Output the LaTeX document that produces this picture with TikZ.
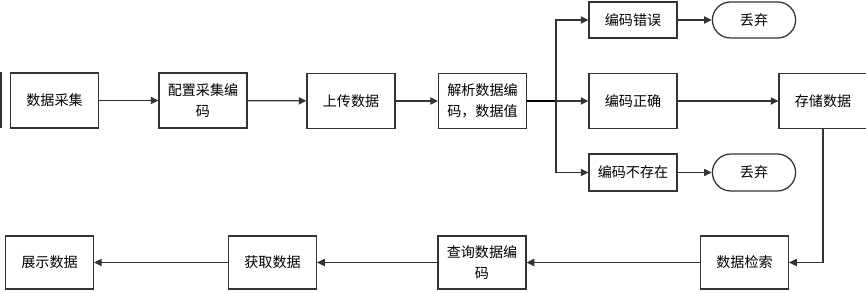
\documentclass[tikz,border=0pt]{standalone}
\usepackage{fontspec}
\setmainfont{Noto Sans CJK SC}
\usetikzlibrary{arrows.meta,shapes.misc}

\begin{document}
\begin{tikzpicture}[x=0.025cm, y=-0.025cm,
    box/.style={draw=black!80, line width=0.9pt, fill=white, minimum width=2.2cm, minimum height=1.375cm, align=center, inner sep=1pt, font=\fontsize{10}{15}\selectfont},
    endbox/.style={box, rounded rectangle, minimum width=2.15cm, minimum height=0.9cm},
    flow/.style={draw=black!80, line width=0.9pt, -{Triangle[length=1.9mm, width=1.8mm]}}]
    \useasboundingbox (0,0) rectangle (866,293);
    % upper row
    \node[box] (prev) at (-43,100) {};
    \node[box] (cj) at (54.5,100.5) {数据采集};
    \node[box] (pz) at (203,100.5) {配置采集编\\码};
    \node[box] (sc) at (351,101) {上传数据};
    \node[box] (jx) at (482.5,101) {解析数据编\\码，数据值};
    % branches
    \coordinate (br) at (556,101);
    \node[box, minimum height=0.9cm] (cw) at (633,20) {编码错误};
    \node[endbox] (qi1) at (754,20) {丢弃};
    \node[box] (zq) at (633,101) {编码正确};
    \node[box, minimum height=0.925cm] (bc) at (633,172.5) {编码不存在};
    \node[endbox, minimum height=0.925cm] (qi2) at (754,172.5) {丢弃};
    \node[box] (cc) at (823,101) {存储数据};
    % lower row
    \node[box, minimum height=1.325cm] (js) at (744.5,262.5) {数据检索};
    \node[box, minimum height=1.325cm] (cx) at (482,262.5) {查询数据编\\码};
    \node[box, minimum height=1.325cm] (hq) at (272.5,262.5) {获取数据};
    \node[box, minimum height=1.325cm] (zs) at (49.5,262.5) {展示数据};
    % connectors
    \draw[flow] (cj) -- (pz);
    \draw[flow] (pz) -- (sc);
    \draw[flow] (sc) -- (jx);
    \draw[draw=black, line width=1.6pt] (jx) -- (br);
    \draw[flow] (br) |- (cw);
    \draw[flow] (br) -- (zq);
    \draw[flow] (br) |- (bc);
    \draw[flow] (cw) -- (qi1);
    \draw[flow] (bc) -- (qi2);
    \draw[flow] (zq) -- (cc);
    \draw[flow] (cc.south) |- (js.east);
    \draw[flow] (js) -- (cx);
    \draw[flow] (cx) -- (hq);
    \draw[flow] (hq) -- (zs);
\end{tikzpicture}
\end{document}
